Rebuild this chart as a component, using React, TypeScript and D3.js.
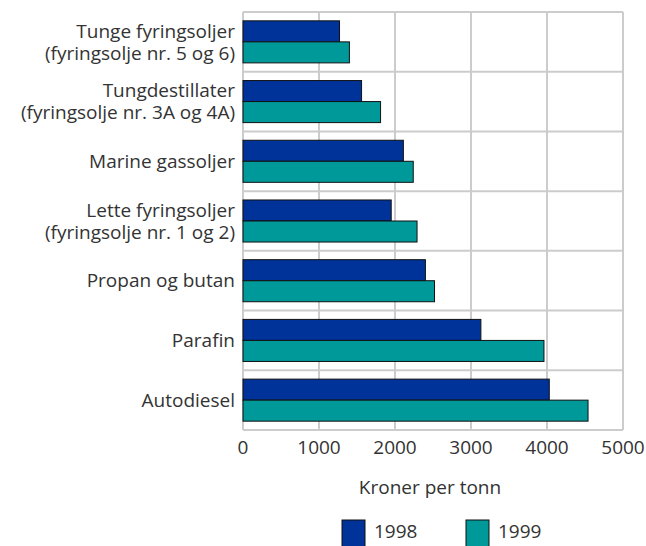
import React from 'react';
import * as d3 from 'd3';

const categories = [
  ['Tunge fyringsoljer', '(fyringsolje nr. 5 og 6)'],
  ['Tungdestillater', '(fyringsolje nr. 3A og 4A)'],
  ['Marine gassoljer'],
  ['Lette fyringsoljer', '(fyringsolje nr. 1 og 2)'],
  ['Propan og butan'],
  ['Parafin'],
  ['Autodiesel'],
];
const series = ['1998', '1999'];
const values1998 = [1270, 1560, 2110, 1950, 2400, 3130, 4030];
const values1999 = [1400, 1810, 2240, 2290, 2520, 3960, 4540];
const ticks = [0, 1000, 2000, 3000, 4000, 5000];
const colors = ['#003399', '#009999'];

const W = 646;
const H = 546;
const left = 243;
const right = 623;
const top = 12;
const bottom = 430;
const font = '"Open Sans", sans-serif';
const fs = 19;
const textColor = '#333';

const App: React.FC = () => {
  const x = d3.scaleLinear().domain([0, 5000]).range([left, right]);
  const y = d3
    .scaleBand<number>()
    .domain(d3.range(categories.length))
    .range([top, bottom])
    .paddingInner(0)
    .paddingOuter(0);
  const inner = d3
    .scaleBand<string>()
    .domain(series)
    .range([0, y.bandwidth()])
    .paddingOuter(0.42)
    .paddingInner(0);
  const data = [values1998, values1999];

  return (
    <svg width={W} height={H} style={{ position: 'absolute', left: 0, top: 0 }}>
      <rect width={W} height={H} fill="#fff" />
      {/* grid */}
      {ticks.map((t) => (
        <line key={'v' + t} x1={x(t)} x2={x(t)} y1={top} y2={bottom} stroke="#cccccc" strokeWidth={2} />
      ))}
      {d3.range(categories.length + 1).map((i) => {
        const yy = i === categories.length ? bottom : (y(i) as number);
        return <line key={'h' + i} x1={left} x2={right} y1={yy} y2={yy} stroke="#cccccc" strokeWidth={2} />;
      })}
      {/* bars */}
      {categories.map((_, i) =>
        series.map((s, j) => (
          <rect
            key={i + s}
            x={x(0)}
            y={(y(i) as number) + (inner(s) as number)}
            width={x(data[j][i]) - x(0)}
            height={inner.bandwidth()}
            fill={colors[j]}
            stroke="#111"
            strokeWidth={1}
          />
        ))
      )}
      {/* category labels */}
      {categories.map((lines, i) => {
        const cy = (y(i) as number) + y.bandwidth() / 2;
        return (
          <text key={'c' + i} x={235} fontFamily={font} fontSize={fs} fill={textColor} textAnchor="end">
            {lines.map((l, k) => (
              <tspan key={k} x={235} y={cy + (k - (lines.length - 1) / 2) * 22} dy="0.35em">
                {l}
              </tspan>
            ))}
          </text>
        );
      })}
      {/* tick labels */}
      {ticks.map((t) => (
        <text key={'t' + t} x={x(t)} y={447} dy="0.35em" textAnchor="middle" fontFamily={font} fontSize={fs} fill={textColor}>
          {t}
        </text>
      ))}
      <text x={430} y={487} dy="0.35em" textAnchor="middle" fontFamily={font} fontSize={fs} fill={textColor}>
        Kroner per tonn
      </text>
      {/* legend */}
      {series.map((s, j) => (
        <g key={'l' + s} transform={`translate(${342 + j * 124},520)`}>
          <rect width={23} height={30} fill={colors[j]} stroke="#111" strokeWidth={1} />
          <text x={32} y={11} dy="0.35em" fontFamily={font} fontSize={fs} fill={textColor}>
            {s}
          </text>
        </g>
      ))}
    </svg>
  );
};

export default App;
